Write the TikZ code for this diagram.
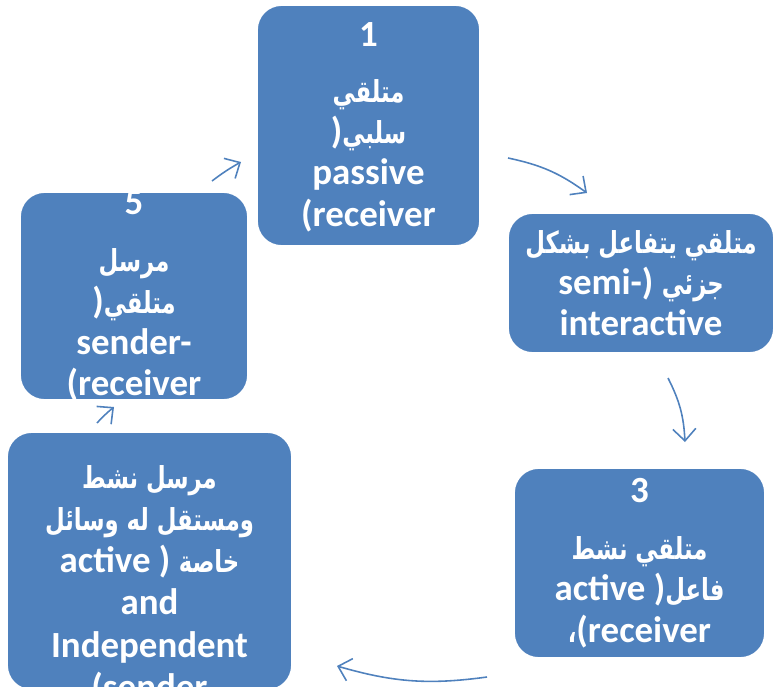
\documentclass[tikz,border=0pt]{standalone}
\usepackage{fontspec}
\setmainfont{Carlito}
\newfontfamily\arabicfont[Script=Arabic,Scale=0.82,FakeStretch=0.75]{DejaVu Sans}
\TeXXeTstate=1
\newcommand\artext[1]{{\arabicfont\bfseries\beginR #1\endR}}
\usetikzlibrary{arrows.meta}
\definecolor{Steel}{HTML}{4F81BD}

\begin{document}
\begin{tikzpicture}[
    x=0.02cm, y=-0.02cm,
    stage/.style={fill=Steel, draw=white, line width=1pt, rounded corners=14pt, inner sep=0pt},
    words/.style={text=white, font=\fontsize{21}{23.5}\selectfont\bfseries, align=center, inner sep=0pt},
    cycle/.style={-{Straight Barb[length=2.4mm,width=4.6mm]}, draw=Steel, line width=0.9pt, bend left=12}
  ]
    \useasboundingbox (0,0) rectangle (775,687);
    % the five boxes
    \node[stage, minimum width=4.46cm, minimum height=4.82cm] (passive) at (368.5,125.5) {};
    \node[stage, minimum width=5.32cm, minimum height=2.8cm] (semi) at (641,283) {};
    \node[stage, minimum width=5.02cm, minimum height=3.8cm] (active) at (639.5,563) {};
    \node[stage, minimum width=5.7cm, minimum height=5.16cm] (sender) at (149.5,561) {};
    \node[stage, minimum width=4.56cm, minimum height=4.16cm] (sendrecv) at (134,296) {};
    % their texts
    \node[words] (passive-t) at ([yshift=-1pt]passive)
      {1\\[8pt]\artext{متلقي}\\)\artext{سلبي}\\passive\\(receiver};
    \node[words] (semi-t) at (semi)
      {\artext{متلقي يتفاعل بشكل}\\semi-) \artext{جزئي}\\interactive};
    \node[words] (active-t) at (active)
      {3\\[9pt]\artext{متلقي نشط}\\active )\artext{فاعل}\\\artext{،}(receiver};
    \node[words, font=\fontsize{21}{24}\selectfont\bfseries] (sender-t) at ([yshift=3pt]sender)
      {4\\[9pt]\artext{مرسل  نشط}\\\artext{ومستقل له وسائل}\\active ) \artext{خاصة}\\and\\Independent\\(sender};
    \node[words] (sendrecv-t) at (sendrecv)
      {5\\[9pt]\artext{مرسل}\\)\artext{متلقي}\\sender-\\(receiver};
    % arrows between the stages
    \coordinate (a12) at (508,158);
    \coordinate (b12) at (587,193);
    \coordinate (a23) at (668,378);
    \coordinate (b23) at (685,442);
    \coordinate (a34) at (487,677);
    \coordinate (b34) at (337,666);
    \coordinate (a45) at (97,423);
    \coordinate (b45) at (114,407);
    \coordinate (a51) at (212,181);
    \coordinate (b51) at (241,162);
    \draw[cycle] (a12) to (b12);
    \draw[cycle] (a23) to (b23);
    \draw[cycle] (a34) to (b34);
    \draw[cycle, bend left=4] (a45) to (b45);
    \draw[cycle, bend left=4] (a51) to (b51);
  \end{tikzpicture}
\end{document}
